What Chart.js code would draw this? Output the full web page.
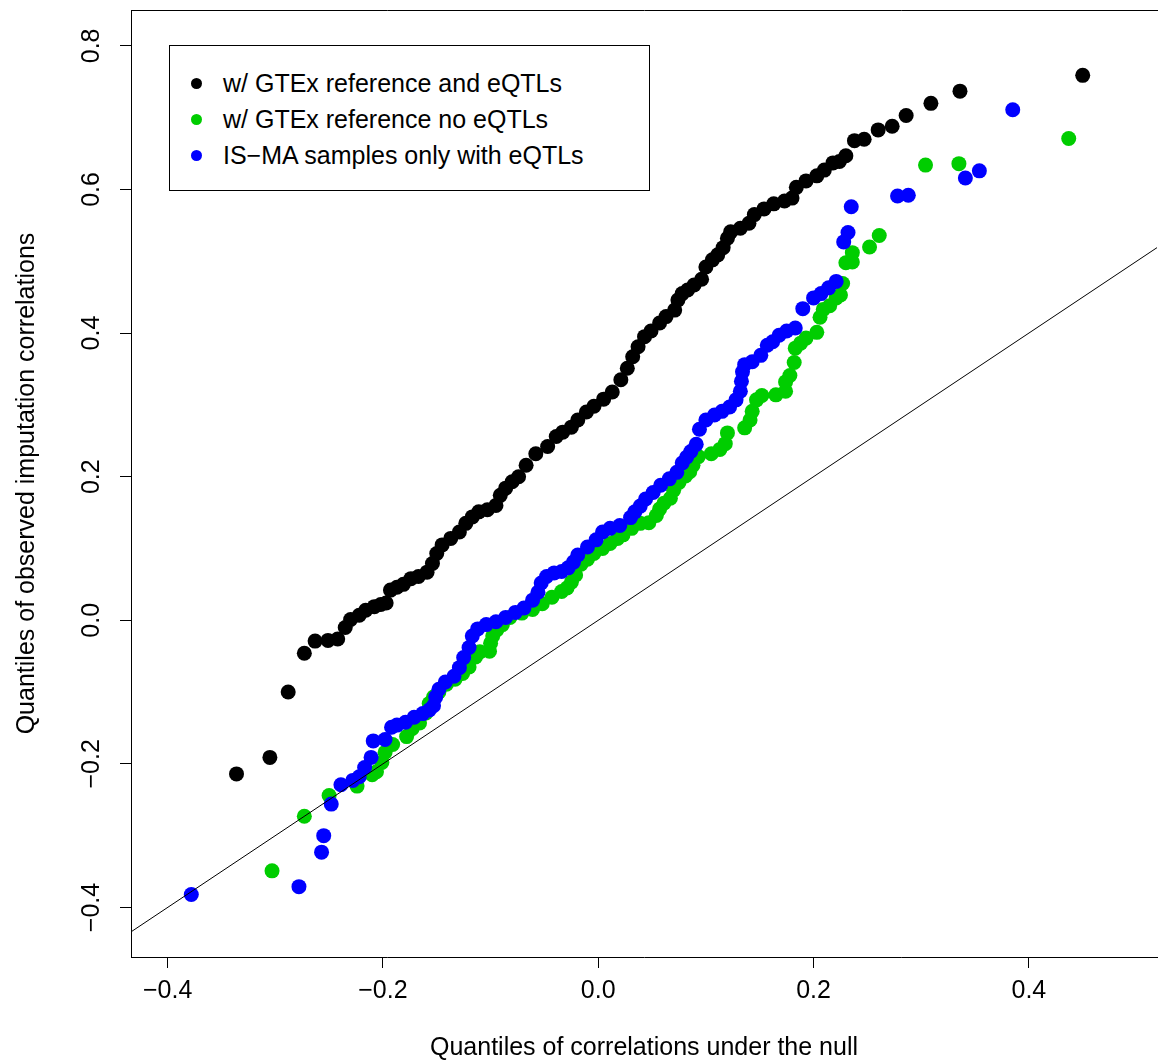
<!DOCTYPE html>
<html>
<head>
<meta charset="utf-8">
<title>QQ plot of imputation correlations</title>
<script src="https://cdn.jsdelivr.net/npm/chart.js@4.4.0/dist/chart.umd.min.js"></script>
<style>
  body { margin: 0; background: #fff; }
  #wrap { position: relative; width: 1158px; height: 1063px; overflow: hidden; }
  #legend {
    position: absolute; left: 169px; top: 45px; width: 479px; height: 144px;
    border: 1px solid #000; background: #fff;
    font: 25px "Liberation Sans", Arial, Helvetica, sans-serif; color: #000;
  }
  .row { position: absolute; left: 0; height: 30px; line-height: 30px; white-space: nowrap; }
  .dot { position: absolute; left: 21px; top: 10px; width: 11px; height: 11px; border-radius: 50%; }
  .txt { position: absolute; left: 53px; top: 0; }
</style>
</head>
<body>
<div id="wrap">
  <canvas id="qq" width="1158" height="1063"></canvas>
  <div id="legend"></div>
</div>
<script>
// quantiles (x = null quantiles, y = observed quantiles)
const blackX = [-0.336,-0.305,-0.288,-0.273,-0.263,-0.251,-0.242,-0.235,-0.230,-0.222,
  -0.216,-0.208,-0.202,-0.197,-0.193,-0.187,-0.181,-0.174,-0.167,-0.159,
  -0.154,-0.150,-0.145,-0.137,-0.129,-0.123,-0.117,-0.111,-0.103,-0.095,
  -0.091,-0.086,-0.080,-0.074,-0.067,-0.058,-0.047,-0.039,-0.033,-0.025,
  -0.019,-0.011,-0.004,0.005,0.013,0.021,0.027,0.032,0.037,0.043,
  0.049,0.057,0.063,0.071,0.074,0.078,0.083,0.089,0.096,0.100,
  0.106,0.111,0.116,0.120,0.123,0.132,0.140,0.145,0.154,0.163,
  0.173,0.180,0.184,0.193,0.203,0.210,0.218,0.224,0.230,0.238,
  0.247,0.260,0.273,0.286,0.309,0.336,0.450];
const blackY = [-0.214,-0.191,-0.100,-0.046,-0.029,-0.028,-0.026,-0.010,0.001,0.007,
  0.014,0.019,0.022,0.024,0.042,0.046,0.050,0.058,0.061,0.067,
  0.079,0.093,0.105,0.114,0.123,0.135,0.144,0.151,0.154,0.160,
  0.174,0.184,0.193,0.200,0.216,0.232,0.242,0.256,0.262,0.269,
  0.279,0.290,0.298,0.308,0.318,0.335,0.351,0.367,0.381,0.395,
  0.403,0.414,0.423,0.432,0.446,0.455,0.460,0.467,0.475,0.492,
  0.502,0.509,0.519,0.532,0.541,0.546,0.553,0.565,0.573,0.580,
  0.584,0.588,0.603,0.612,0.619,0.627,0.637,0.639,0.647,0.668,
  0.670,0.683,0.688,0.703,0.720,0.737,0.759];

const greenX = [-0.303,-0.273,-0.250,-0.224,-0.210,-0.206,-0.201,-0.198,-0.191,-0.178,
  -0.173,-0.166,-0.160,-0.157,-0.153,-0.148,-0.141,-0.133,-0.126,-0.120,
  -0.114,-0.110,-0.101,-0.100,-0.098,-0.094,-0.089,-0.082,-0.071,-0.061,
  -0.052,-0.043,-0.034,-0.029,-0.025,-0.021,-0.016,-0.010,-0.004,0.004,
  0.011,0.018,0.023,0.031,0.039,0.047,0.054,0.057,0.061,0.067,
  0.070,0.075,0.081,0.085,0.088,0.093,0.105,0.113,0.118,0.120,
  0.136,0.141,0.143,0.147,0.152,0.165,0.174,0.174,0.178,0.182,
  0.183,0.188,0.193,0.203,0.206,0.209,0.215,0.221,0.225,0.227,
  0.230,0.236,0.236,0.252,0.261,0.304,0.335,0.437];
const greenY = [-0.349,-0.273,-0.244,-0.231,-0.215,-0.211,-0.198,-0.184,-0.173,-0.162,
  -0.151,-0.143,-0.129,-0.116,-0.107,-0.100,-0.089,-0.082,-0.074,-0.065,
  -0.051,-0.044,-0.043,-0.032,-0.022,-0.013,-0.006,0.004,0.010,0.015,
  0.023,0.032,0.040,0.045,0.053,0.063,0.078,0.085,0.093,0.100,
  0.107,0.114,0.119,0.128,0.135,0.136,0.146,0.155,0.163,0.170,
  0.181,0.192,0.201,0.207,0.216,0.228,0.232,0.238,0.246,0.261,
  0.268,0.279,0.291,0.307,0.313,0.314,0.319,0.332,0.341,0.359,
  0.379,0.386,0.393,0.401,0.422,0.433,0.438,0.449,0.453,0.469,
  0.498,0.499,0.512,0.520,0.536,0.634,0.636,0.671];

const blueX = [-0.378,-0.278,-0.257,-0.255,-0.248,-0.239,-0.228,-0.222,-0.217,-0.211,
  -0.209,-0.198,-0.192,-0.187,-0.179,-0.171,-0.163,-0.157,-0.153,-0.151,
  -0.148,-0.142,-0.134,-0.129,-0.125,-0.120,-0.117,-0.112,-0.104,-0.095,
  -0.086,-0.077,-0.069,-0.061,-0.056,-0.053,-0.048,-0.041,-0.034,-0.028,
  -0.023,-0.019,-0.010,-0.002,0.004,0.011,0.020,0.030,0.034,0.039,
  0.044,0.051,0.058,0.066,0.073,0.078,0.082,0.086,0.091,0.094,
  0.100,0.108,0.115,0.122,0.128,0.132,0.133,0.134,0.136,0.143,
  0.151,0.157,0.162,0.168,0.175,0.183,0.190,0.200,0.207,0.214,
  0.221,0.228,0.232,0.235,0.278,0.288,0.341,0.354,0.385];
const blueY = [-0.382,-0.371,-0.323,-0.300,-0.256,-0.229,-0.223,-0.218,-0.205,-0.191,
  -0.168,-0.166,-0.149,-0.146,-0.142,-0.135,-0.130,-0.125,-0.119,-0.107,
  -0.096,-0.086,-0.078,-0.066,-0.052,-0.038,-0.022,-0.012,-0.006,-0.002,
  0.004,0.011,0.017,0.028,0.039,0.052,0.061,0.066,0.068,0.073,
  0.081,0.091,0.102,0.112,0.123,0.128,0.132,0.143,0.151,0.159,
  0.169,0.178,0.188,0.197,0.206,0.219,0.227,0.235,0.245,0.266,
  0.279,0.286,0.291,0.297,0.307,0.319,0.333,0.346,0.356,0.360,
  0.369,0.383,0.388,0.397,0.403,0.407,0.434,0.449,0.455,0.463,
  0.472,0.527,0.540,0.576,0.591,0.592,0.616,0.626,0.711];

// y = x reference line
const refLine = [-0.6, 0.7];

const xTicks = [-0.4, -0.2, 0.0, 0.2, 0.4];
const yTicks = [-0.4, -0.2, 0.0, 0.2, 0.4, 0.6, 0.8];

const seriesNames = ['w/ GTEx reference and eQTLs', 'w/ GTEx reference no eQTLs', 'IS\u2212MA samples only with eQTLs'];
const seriesColors = ['#000000', '#00CD00', '#0000FF'];

const xTitle = 'Quantiles of correlations under the null';
const yTitle = 'Quantiles of observed imputation correlations';

const FONT = '"Liberation Sans", Arial, Helvetica, sans-serif';

function pts(xs, ys) {
  return xs.map((x, i) => ({ x: x, y: ys[i] }));
}
function fmt(v) {
  return (v < 0 ? '\u2212' : '') + Math.abs(v).toFixed(1);
}

// legend box (drawn inside the plot like R's legend())
const leg = document.getElementById('legend');
seriesNames.forEach((name, i) => {
  const row = document.createElement('div');
  row.className = 'row';
  row.style.top = (22 + i * 36) + 'px';
  row.innerHTML = '<span class="dot" style="background:' + seriesColors[i] + '"></span><span class="txt">' + name + '</span>';
  row.style.width = '100%';
  leg.appendChild(row);
});

const axisGrid = { drawOnChartArea: false, drawTicks: true, tickLength: 11, tickColor: '#000', tickWidth: 1 };
const axisBorder = { display: true, color: '#000', width: 1 };

new Chart(document.getElementById('qq'), {
  type: 'scatter',
  data: {
    datasets: [
      { label: 'y = x', data: pts(refLine, refLine), showLine: true, borderColor: '#000', borderWidth: 1,
        pointRadius: 0, order: 0 },
      { label: seriesNames[0], data: pts(blackX, blackY), backgroundColor: seriesColors[0], borderWidth: 0,
        pointRadius: 7.5, order: 3 },
      { label: seriesNames[1], data: pts(greenX, greenY), backgroundColor: seriesColors[1], borderWidth: 0,
        pointRadius: 7.5, order: 2 },
      { label: seriesNames[2], data: pts(blueX, blueY), backgroundColor: seriesColors[2], borderWidth: 0,
        pointRadius: 7.5, order: 1 }
    ]
  },
  options: {
    responsive: false,
    devicePixelRatio: 1,
    animation: false,
    events: [],
    layout: { autoPadding: false, padding: { top: 10, right: 1, left: 0, bottom: 0 } },
    plugins: { legend: { display: false }, tooltip: { enabled: false } },
    scales: {
      x: {
        type: 'linear', position: 'bottom', min: -0.434, max: 0.519,
        afterBuildTicks: s => { s.ticks = xTicks.map(v => ({ value: v })); },
        afterFit: s => { s.height = 106; s.paddingLeft = 0; s.paddingRight = 0; },
        grid: axisGrid, border: axisBorder,
        ticks: { color: '#000', font: { size: 25, family: FONT }, padding: 8, callback: fmt,
                 minRotation: 0, maxRotation: 0, autoSkip: false },
        title: { display: true, text: xTitle, color: '#000', font: { size: 25, family: FONT },
                 padding: { top: 0, bottom: 0 } }
      },
      xTop: {
        type: 'linear', position: 'top', min: -0.434, max: 0.519,
        afterFit: s => { s.height = 0; s.paddingLeft = 0; s.paddingRight = 0; },
        grid: { display: false, drawTicks: false }, border: axisBorder,
        ticks: { display: false }
      },
      y: {
        type: 'linear', position: 'left', min: -0.469, max: 0.85,
        afterBuildTicks: s => { s.ticks = yTicks.map(v => ({ value: v })); },
        afterFit: s => { s.width = 131; s.paddingTop = 0; s.paddingBottom = 0; },
        grid: axisGrid, border: axisBorder,
        ticks: { color: '#000', font: { size: 25, family: FONT }, padding: 3, callback: fmt,
                 minRotation: 90, maxRotation: 90, crossAlign: 'center', autoSkip: false },
        title: { display: true, text: yTitle, color: '#000', font: { size: 25, family: FONT },
                 padding: { top: 12, bottom: 0 } }
      }
    }
  }
});
</script>
</body>
</html>
